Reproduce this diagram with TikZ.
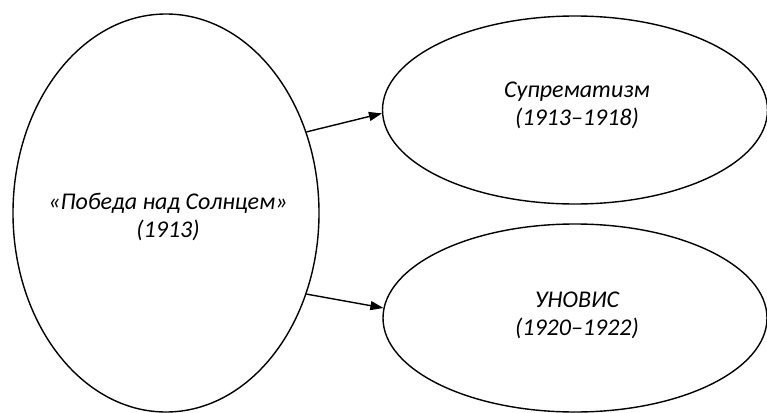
\documentclass[tikz,border=0pt]{standalone}
\usepackage{fontspec}
\setmainfont{Carlito}
\usetikzlibrary{shapes.geometric,arrows.meta}
\tikzset{
  oval/.style={ellipse, draw=black, line width=1.4pt, inner sep=0pt},
  txt/.style={align=center, inner sep=0pt, font=\fontsize{24}{28}\selectfont\itshape},
  link/.style={line width=1.4pt, -{Triangle[length=13pt,width=9pt]}}
}
\begin{document}
\begin{tikzpicture}[x=1pt,y=-1pt]
\useasboundingbox (0,0) rectangle (767,412);
\node[oval, minimum width=306pt, minimum height=398pt] (L) at (166,213) {};
\node[oval, minimum width=385pt, minimum height=188pt] (TR) at (575,110) {};
\node[oval, minimum width=384pt, minimum height=188pt] (BR) at (575,318) {};
\node[txt] (Lt) at (168,217) {«Победа над Солнцем»\\(1913)};
\node[txt] (TRt) at (577,105) {Супрематизм\\(1913–1918)};
\node[txt] (BRt) at (577,315) {УНОВИС\\(1920–1922)};
\draw[link] (L.30) -- (TR.181);
\draw[link] (L.-30) -- (BR.177);
\end{tikzpicture}
\end{document}
